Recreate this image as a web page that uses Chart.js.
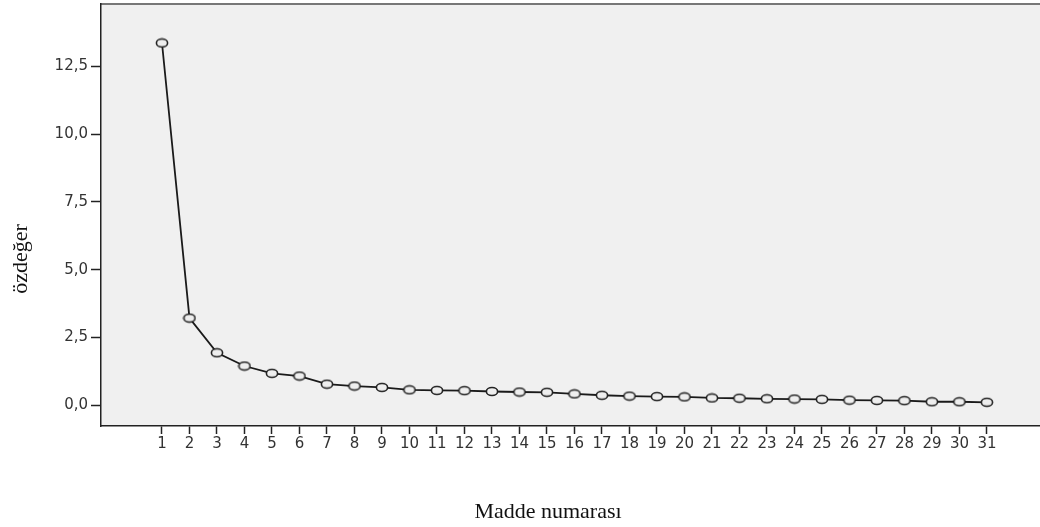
<!DOCTYPE html>
<html>
<head>
<meta charset="utf-8">
<script src="https://cdn.jsdelivr.net/npm/chart.js@4/dist/chart.umd.min.js"></script>
<style>
  html, body { margin: 0; padding: 0; background: #fff; }
  #wrap { width: 1040px; height: 527px; }
</style>
</head>
<body>
<div id="wrap"><canvas id="scree"></canvas></div>
<script>
// scree plot: item number vs eigenvalue
const items = [1, 2, 3, 4, 5, 6, 7, 8, 9, 10, 11, 12, 13, 14, 15, 16, 17, 18, 19, 20,
  21, 22, 23, 24, 25, 26, 27, 28, 29, 30, 31];
const eigenvalues = [13.37, 3.21, 1.93, 1.44, 1.17, 1.07, 0.77, 0.70, 0.65, 0.56,
  0.54, 0.53, 0.50, 0.48, 0.47, 0.41, 0.36, 0.33, 0.31, 0.30,
  0.26, 0.25, 0.23, 0.22, 0.21, 0.18, 0.17, 0.16, 0.12, 0.12, 0.10];
const yTicks = [0, 2.5, 5, 7.5, 10, 12.5];
const xTitle = 'Madde numarası';
const yTitle = 'özdeğer';

// hollow, slightly flattened circle like the SPSS marker
const marker = document.createElement('canvas');
marker.width = 14;
marker.height = 11;
const mctx = marker.getContext('2d');
mctx.beginPath();
mctx.ellipse(7, 5.5, 5.6, 4, 0, 0, Math.PI * 2);
mctx.fillStyle = '#eeeeee';
mctx.fill();
mctx.lineWidth = 1.6;
mctx.strokeStyle = '#222';
mctx.stroke();

const plotFrame = {
  id: 'plotFrame',
  beforeDraw(chart) {
    const { ctx, chartArea: a } = chart;
    ctx.save();
    ctx.fillStyle = '#f0f0f0';
    ctx.fillRect(a.left, a.top, a.right - a.left, a.bottom - a.top);
    ctx.strokeStyle = '#777';
    ctx.lineWidth = 2;
    ctx.beginPath();
    ctx.moveTo(a.left, a.top);
    ctx.lineTo(a.right, a.top);
    ctx.stroke();
    ctx.restore();
  },
  afterDraw(chart) {
    const ctx = chart.ctx;
    ctx.save();
    ctx.fillStyle = '#111';
    ctx.font = '22px "Liberation Serif"';
    ctx.textAlign = 'center';
    ctx.textBaseline = 'middle';
    ctx.fillText(xTitle, 548, 512);
    ctx.translate(21, 259);
    ctx.rotate(-Math.PI / 2);
    ctx.fillText(yTitle, 0, 0);
    ctx.restore();
  }
};

const tickFont = { family: 'DejaVu Sans', size: 15 };

new Chart(document.getElementById('scree'), {
  type: 'line',
  data: {
    datasets: [{
      data: items.map((x, i) => ({ x: x, y: eigenvalues[i] })),
      borderColor: '#1a1a1a',
      borderWidth: 1.8,
      pointStyle: marker,
      pointRadius: 6,
      tension: 0
    }]
  },
  options: {
    responsive: true,
    maintainAspectRatio: false,
    animation: false,
    layout: { autoPadding: false, padding: { top: 4, left: 0, right: 0, bottom: 0 } },
    plugins: { legend: { display: false }, tooltip: { enabled: false } },
    scales: {
      x: {
        type: 'linear',
        min: -1.218,
        max: 32.93,
        afterBuildTicks: (s) => { s.ticks = items.map(v => ({ value: v })); },
        afterFit: (s) => { s.height = 101; s.paddingLeft = 0; s.paddingRight = 0; },
        ticks: { autoSkip: false, maxRotation: 0, font: tickFont, color: '#333', padding: 1 },
        grid: { drawOnChartArea: false, tickLength: 8, tickColor: '#222', tickWidth: 1.5 },
        border: { color: '#222', width: 1.5 }
      },
      y: {
        type: 'linear',
        min: -0.775,
        max: 14.81,
        afterBuildTicks: (s) => { s.ticks = yTicks.map(v => ({ value: v })); },
        afterFit: (s) => { s.width = 101; s.paddingTop = 0; s.paddingBottom = 0; },
        ticks: {
          font: tickFont, color: '#333', padding: 3,
          callback: (v) => v.toFixed(1).replace('.', ',')
        },
        grid: { drawOnChartArea: false, tickLength: 10, tickColor: '#222', tickWidth: 1.5 },
        border: { color: '#222', width: 1.5 }
      }
    }
  },
  plugins: [plotFrame]
});
</script>
</body>
</html>
